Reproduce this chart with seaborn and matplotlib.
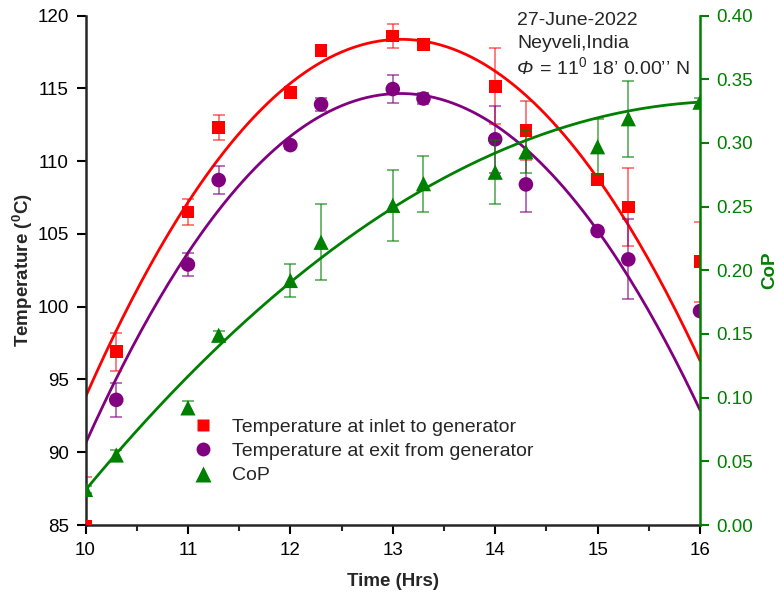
import numpy as np
import matplotlib
matplotlib.use("Agg")
import matplotlib.pyplot as plt
from matplotlib.lines import Line2D
from matplotlib.ticker import MultipleLocator, FormatStrFormatter
import seaborn as sns

# datos
hours = [10, 10.3, 11, 11.3, 12, 12.3, 13, 13.3, 14, 14.3, 15, 15.3, 16]
t_inlet = [84.9, 96.9, 106.5, 112.3, 114.7, 117.6, 118.6, 118.0, 115.15, 112.1, 108.75, 106.85, 103.1]
t_inlet_err = [3.4, 1.3, 0.9, 0.85, 0.25, 0.2, 0.8, 0.2, 2.6, 2.0, 0.2, 2.7, 2.75]

exit_hours = [10.3, 11, 11.3, 12, 12.3, 13, 13.3, 14, 14.3, 15, 15.3, 16]
t_exit = [93.6, 102.9, 108.7, 111.1, 113.9, 114.95, 114.3, 111.5, 108.4, 105.2, 103.25, 99.7]
t_exit_err = [1.15, 0.8, 0.95, 0.3, 0.45, 0.95, 0.35, 2.3, 1.9, 0.2, 2.75, 0.2]

cop = [0.028, 0.055, 0.092, 0.149, 0.192, 0.222, 0.251, 0.268, 0.277, 0.293, 0.297, 0.319, 0.332]
cop_err = [0.003, 0.004, 0.005, 0.003, 0.013, 0.03, 0.028, 0.022, 0.025, 0.017, 0.022, 0.03, 0.003]

# coeficientes del ajuste polinomial (en funcion de x - 13)
inlet_fit = [-2.589, 0.4167, 118.35]
exit_fit = [-2.542, 0.383, 114.63]
cop_fit = [-0.00769, 0.05075, 0.249]

RED = "#FF0000"
PURPLE = "#800080"
GREEN = "#008000"

sns.set_style("ticks")
plt.rcParams["font.family"] = ["Liberation Sans", "DejaVu Sans"]
plt.rcParams["mathtext.fontset"] = "custom"
plt.rcParams["mathtext.rm"] = "Liberation Sans"
plt.rcParams["mathtext.it"] = "Liberation Sans:italic"
plt.rcParams["mathtext.bf"] = "Liberation Sans:bold"

fig, ax = plt.subplots(figsize=(7.79, 5.98), dpi=100)
fig.subplots_adjust(left=0.1098, right=0.8986, top=0.974, bottom=0.122)
ax2 = ax.twinx()

xs = np.linspace(10, 16, 200)

# curvas de ajuste
sns.lineplot(x=xs, y=np.polyval(inlet_fit, xs - 13), color=RED, lw=2, ax=ax)
sns.lineplot(x=xs, y=np.polyval(exit_fit, xs - 13), color=PURPLE, lw=2, ax=ax)
sns.lineplot(x=xs, y=np.polyval(cop_fit, xs - 13), color=GREEN, lw=2, ax=ax2)

# barras de error
ax.errorbar(hours, t_inlet, yerr=t_inlet_err, fmt="none", ecolor=RED, alpha=0.55,
            capsize=4, elinewidth=1.3, capthick=1.3)
ax.errorbar(exit_hours, t_exit, yerr=t_exit_err, fmt="none", ecolor=PURPLE, alpha=0.6,
            capsize=4, elinewidth=1.3, capthick=1.3)
ax2.errorbar(hours, cop, yerr=cop_err, fmt="none", ecolor=GREEN, alpha=0.6,
             capsize=4, elinewidth=1.3, capthick=1.3)

# puntos
sns.scatterplot(x=hours, y=t_inlet, marker="s", s=85, color=RED, edgecolor="none", ax=ax, zorder=5)
sns.scatterplot(x=exit_hours, y=t_exit, marker="o", s=110, color=PURPLE, edgecolor="none", ax=ax, zorder=5)
sns.scatterplot(x=hours, y=cop, marker="^", s=120, color=GREEN, edgecolor="none", ax=ax2, zorder=5)

ax.set_xlim(10, 16)
ax.set_ylim(85, 120)
ax2.set_ylim(0, 0.40)

ax.xaxis.set_major_locator(MultipleLocator(1))
ax.xaxis.set_minor_locator(MultipleLocator(0.5))
ax.yaxis.set_major_locator(MultipleLocator(5))
ax2.yaxis.set_major_locator(MultipleLocator(0.05))
ax2.yaxis.set_major_formatter(FormatStrFormatter("%.2f"))

ax.tick_params(axis="both", which="major", direction="out", length=6.5, width=1.5,
               labelsize=13.5, colors="black", pad=5.5)
ax.tick_params(axis="x", which="minor", direction="out", length=4, width=1.5)
ax2.tick_params(axis="y", which="major", direction="out", length=6.5, width=1.5,
                labelsize=13.5, colors=GREEN, pad=5)

for s in ["top", "right"]:
    ax.spines[s].set_visible(False)
for s in ["top", "left", "bottom"]:
    ax2.spines[s].set_visible(False)
ax.spines["left"].set_linewidth(1.8)
ax.spines["bottom"].set_linewidth(1.8)
ax2.spines["right"].set_linewidth(1.8)
ax2.spines["right"].set_color(GREEN)

ax.set_xlabel("Time (Hrs)", fontsize=13.5, fontweight="bold", labelpad=10)
ax.set_ylabel(r"Temperature ($^{\mathbf{0}}$C)", fontsize=13.5, fontweight="bold", labelpad=2)
ax2.set_ylabel("CoP", fontsize=13.5, fontweight="bold", color=GREEN, labelpad=6)

# anotacion
fig.text(0.664, 0.958, "27-June-2022", fontsize=14)
fig.text(0.664, 0.919, "Neyveli,India", fontsize=14)
phi = fig.text(0.664, 0.876, "Φ", fontsize=14, style="italic")
ax.annotate(r" = 11$^0$ 18’ 0.00’’ N", xy=(1, 0), xycoords=phi, va="bottom",
            fontsize=14, annotation_clip=False)

# leyenda
handles = [
    Line2D([], [], ls="none", marker="s", ms=9, color=RED, mec="none"),
    Line2D([], [], ls="none", marker="o", ms=10, color=PURPLE, mec="none"),
    Line2D([], [], ls="none", marker="^", ms=11, color=GREEN, mec="none"),
]
labels = ["Temperature at inlet to generator", "Temperature at exit from generator", "CoP"]
ax2.legend(handles, labels, loc="upper left", bbox_to_anchor=(0.16, 0.210), frameon=False,
           fontsize=14, borderpad=0, borderaxespad=0, labelspacing=0.35, handletextpad=0.5,
           handlelength=2.0)

ax.set_zorder(ax2.get_zorder() - 1)
fig.savefig("out.png", dpi=100)
